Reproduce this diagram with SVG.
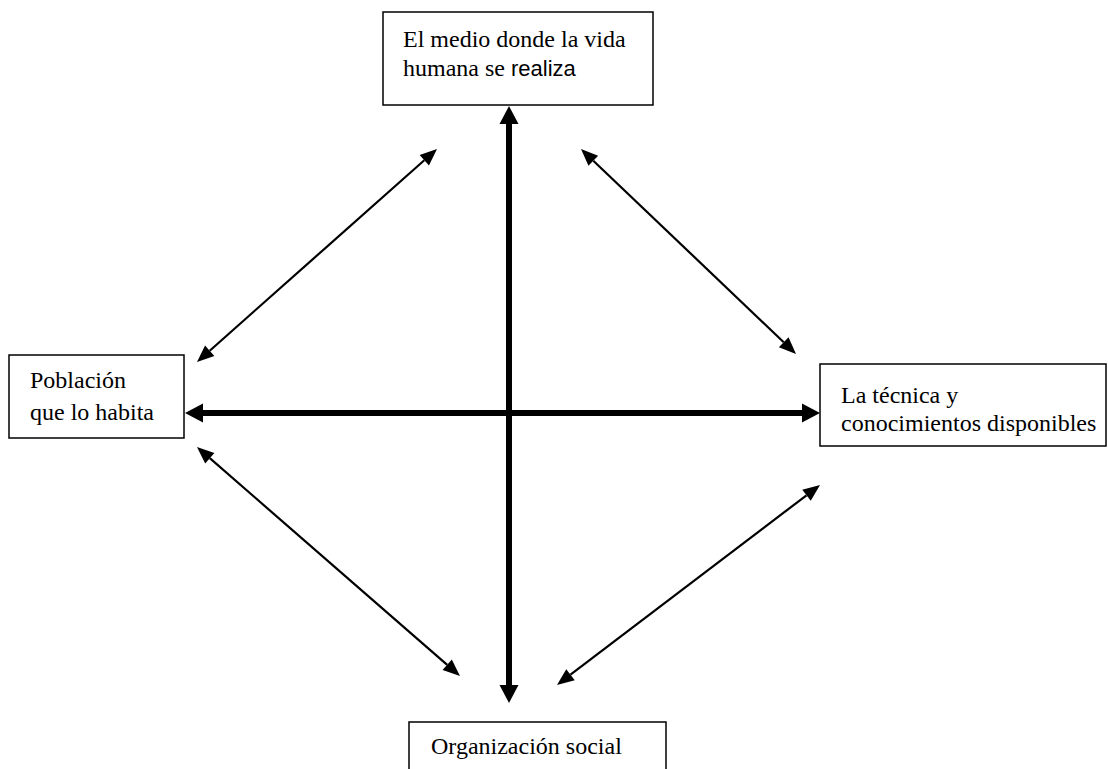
<svg xmlns="http://www.w3.org/2000/svg" width="1108" height="769" viewBox="0 0 1108 769">
<style>
.box{fill:#fff;stroke:#000;stroke-width:1.5}
.t{font-family:"Liberation Serif","Times New Roman",serif;font-size:24px;fill:#000}
.s{font-family:"Liberation Sans",Arial,sans-serif;font-size:22px}
.thick{stroke:#000;stroke-width:6;fill:none}
.thin{stroke:#000;stroke-width:2.2;fill:none}
</style>
<defs>
<marker id="big" markerUnits="userSpaceOnUse" markerWidth="18" markerHeight="19" refX="0" refY="9.5" orient="auto-start-reverse" overflow="visible">
<path d="M0,0 L18,9.5 L0,19 Z" fill="#000"/>
</marker>
<marker id="small" markerUnits="userSpaceOnUse" markerWidth="17" markerHeight="14" refX="0" refY="7" orient="auto-start-reverse" overflow="visible">
<path d="M0,0 L17,7 L0,14 Z" fill="#000"/>
</marker>
</defs>
<rect width="1108" height="769" fill="#fff"/>
<g id="connectors">
<line class="thick" x1="509" y1="124" x2="509" y2="685" marker-start="url(#big)" marker-end="url(#big)"/>
<line class="thick" x1="203" y1="413" x2="802" y2="413" marker-start="url(#big)" marker-end="url(#big)"/>
<line class="thin" x1="209.7" y1="350.7" x2="424.3" y2="160.3" marker-start="url(#small)" marker-end="url(#small)"/>
<line class="thin" x1="593.3" y1="160.7" x2="783.7" y2="342.2" marker-start="url(#small)" marker-end="url(#small)"/>
<line class="thin" x1="209.8" y1="458.2" x2="447.2" y2="664.8" marker-start="url(#small)" marker-end="url(#small)"/>
<line class="thin" x1="806.5" y1="495.3" x2="570.5" y2="674.7" marker-start="url(#small)" marker-end="url(#small)"/>
</g>
<g id="medio">
<rect class="box" x="383" y="12" width="270" height="93"/>
<text class="t" x="403" y="47">El medio donde la vida</text>
<text class="t" x="403" y="76">humana se <tspan class="s">realiza</tspan></text>
</g>
<g id="poblacion">
<rect class="box" x="9" y="355" width="175" height="83"/>
<text class="t" x="30" y="388">Población</text>
<text class="t" x="30" y="420">que lo habita</text>
</g>
<g id="tecnica">
<rect class="box" x="820" y="364" width="286" height="82"/>
<text class="t" x="841" y="403">La técnica y</text>
<text class="t" x="841" y="431">conocimientos disponibles</text>
</g>
<g id="organizacion">
<rect class="box" x="409" y="722" width="257" height="70"/>
<text class="t" x="431" y="754">Organización social</text>
</g>
</svg>
